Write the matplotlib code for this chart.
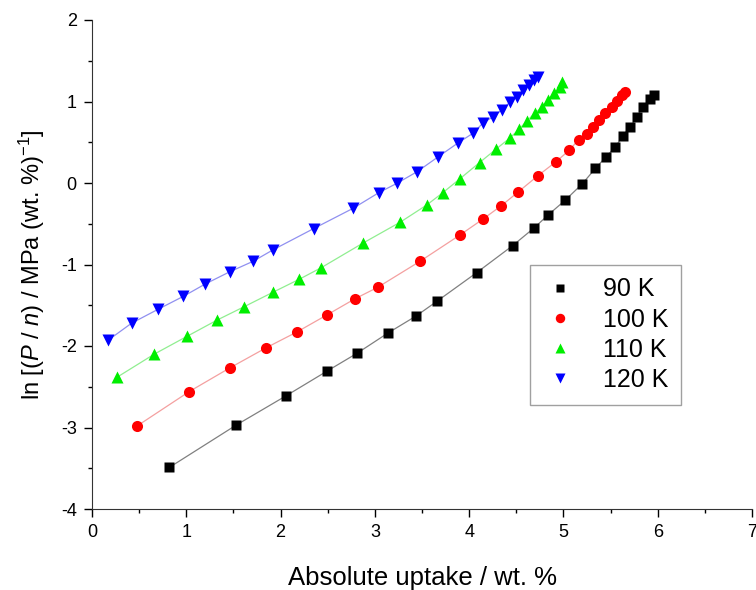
import matplotlib
matplotlib.use("Agg")
import matplotlib.pyplot as plt
from matplotlib.ticker import MultipleLocator

# ------------------ data ------------------
x_90 = [0.82, 1.53, 2.06, 2.49, 2.81, 3.14, 3.44, 3.66, 4.08, 4.46, 4.69, 4.84,
        5.02, 5.20, 5.34, 5.45, 5.55, 5.63, 5.71, 5.78, 5.84, 5.92, 5.96]
y_90 = [-3.49, -2.97, -2.61, -2.31, -2.09, -1.84, -1.63, -1.45, -1.10, -0.77, -0.55, -0.39,
        -0.21, -0.01, 0.18, 0.32, 0.44, 0.58, 0.69, 0.81, 0.93, 1.03, 1.08]

x_100 = [0.48, 1.03, 1.46, 1.85, 2.17, 2.49, 2.79, 3.03, 3.48, 3.90, 4.15, 4.34,
         4.52, 4.73, 4.92, 5.06, 5.16, 5.25, 5.31, 5.38, 5.44, 5.51, 5.57, 5.62, 5.65]
y_100 = [-2.98, -2.56, -2.27, -2.02, -1.83, -1.62, -1.42, -1.28, -0.96, -0.64, -0.44, -0.28,
         -0.11, 0.09, 0.26, 0.40, 0.53, 0.60, 0.69, 0.77, 0.86, 0.93, 1.01, 1.08, 1.12]

x_110 = [0.27, 0.66, 1.01, 1.33, 1.61, 1.92, 2.20, 2.43, 2.87, 3.27, 3.55, 3.72,
         3.90, 4.11, 4.29, 4.43, 4.53, 4.61, 4.70, 4.77, 4.84, 4.90, 4.96, 4.99]
y_110 = [-2.38, -2.10, -1.88, -1.68, -1.52, -1.34, -1.18, -1.04, -0.74, -0.48, -0.27, -0.12,
         0.05, 0.25, 0.42, 0.55, 0.66, 0.76, 0.86, 0.93, 1.02, 1.10, 1.18, 1.24]

x_120 = [0.17, 0.42, 0.70, 0.97, 1.20, 1.46, 1.71, 1.92, 2.35, 2.77, 3.04, 3.24,
         3.45, 3.67, 3.88, 4.04, 4.15, 4.25, 4.35, 4.43, 4.51, 4.57, 4.63, 4.69, 4.73]
y_120 = [-1.93, -1.72, -1.55, -1.39, -1.24, -1.09, -0.96, -0.82, -0.56, -0.31, -0.12, 0.00,
         0.14, 0.32, 0.49, 0.61, 0.74, 0.81, 0.90, 0.99, 1.06, 1.14, 1.20, 1.26, 1.30]

labels = ["90 K", "100 K", "110 K", "120 K"]

# ------------------ style ------------------
plt.rcParams.update({
    "font.family": "Liberation Sans",
    "mathtext.fontset": "custom",
    "mathtext.rm": "Liberation Sans",
    "mathtext.it": "Liberation Sans:italic",
    "axes.unicode_minus": False,
    "axes.edgecolor": "#333333",
})

fig = plt.figure(figsize=(7.56, 5.90), dpi=100)
ax = fig.add_axes([92 / 756, 1 - 509 / 590, 660 / 756, 489 / 590])

series = [
    (x_90, y_90, "s", "black", "#808080", 7.0),
    (x_100, y_100, "o", "red", "#f4a0a0", 8.0),
    (x_110, y_110, "^", "#00ee00", "#90ee90", 8.5),
    (x_120, y_120, "v", "blue", "#9090f0", 8.5),
]

for (xs, ys, mk, col, lcol, ms), lbl in zip(series, labels):
    ax.plot(xs, ys, "-", color=lcol, lw=0.9, zorder=1)
    ax.plot(xs, ys, mk, color=col, ms=ms, mec="none", label=lbl, zorder=2)

ax.set_xlim(0, 7)
ax.set_ylim(-4, 2)
ax.xaxis.set_major_locator(MultipleLocator(1))
ax.xaxis.set_minor_locator(MultipleLocator(0.5))
ax.yaxis.set_major_locator(MultipleLocator(1))
ax.yaxis.set_minor_locator(MultipleLocator(0.5))
ax.tick_params(which="major", direction="out", length=6, width=1, labelsize=13, pad=5)
ax.tick_params(which="minor", direction="out", length=3, width=1)
for s in ["top", "right"]:
    ax.spines[s].set_visible(False)

ax.set_xlabel("Absolute uptake / wt. %", fontsize=18.5, labelpad=18)
ax.set_ylabel(r"ln [($\it{P}$ / $\it{n}$) / MPa (wt. %)$^{-1}$]", fontsize=17, labelpad=10)

leg = ax.legend(loc="upper left", bbox_to_anchor=(0.664, 0.499), fontsize=18,
                frameon=True, fancybox=False, edgecolor="#888888", markerscale=0.85,
                handletextpad=1.0, borderpad=0.5, labelspacing=0.25, handlelength=1.4,
                borderaxespad=0)
leg.get_frame().set_linewidth(1.0)

fig.savefig("out.png", dpi=100)
